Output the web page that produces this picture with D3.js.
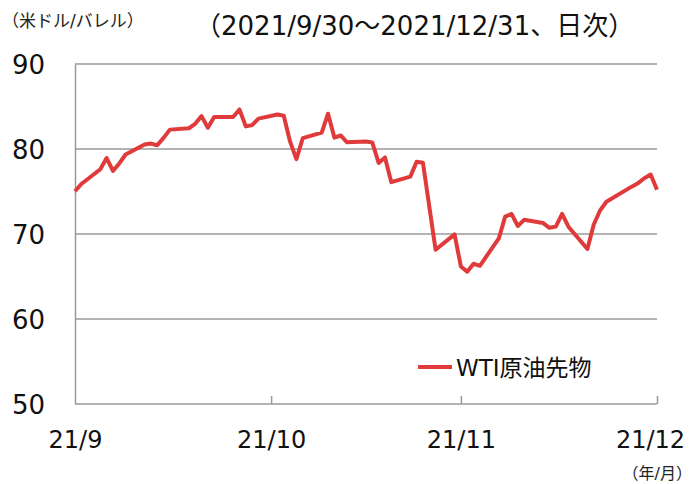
<!DOCTYPE html>
<html><head><meta charset="utf-8">
<script src="https://cdn.jsdelivr.net/npm/d3@7"></script>
<style>
html,body{margin:0;padding:0;background:#fff;}
svg{display:block;font-family:"DejaVu Sans","Noto Sans CJK JP",sans-serif;}
</style></head><body>
<svg id="c" width="696" height="484"></svg>
<script>
const dates = ["2021-09-30","2021-10-01","2021-10-04","2021-10-05","2021-10-06","2021-10-07","2021-10-08",
"2021-10-11","2021-10-12","2021-10-13","2021-10-14","2021-10-15","2021-10-18","2021-10-19","2021-10-20",
"2021-10-21","2021-10-22","2021-10-25","2021-10-26","2021-10-27","2021-10-28","2021-10-29",
"2021-11-01","2021-11-02","2021-11-03","2021-11-04","2021-11-05","2021-11-08","2021-11-09","2021-11-10",
"2021-11-11","2021-11-12","2021-11-15","2021-11-16","2021-11-17","2021-11-18","2021-11-19","2021-11-22",
"2021-11-23","2021-11-24","2021-11-26","2021-11-29","2021-11-30","2021-12-01","2021-12-02","2021-12-03",
"2021-12-06","2021-12-07","2021-12-08","2021-12-09","2021-12-10","2021-12-13","2021-12-14","2021-12-15",
"2021-12-16","2021-12-17","2021-12-20","2021-12-21","2021-12-22","2021-12-23","2021-12-27","2021-12-28",
"2021-12-29","2021-12-30","2021-12-31"];
const wti = [75.03,75.88,77.62,78.93,77.43,78.30,79.35,
80.52,80.64,80.44,81.31,82.28,82.44,82.96,83.87,
82.50,83.76,83.76,84.65,82.66,82.81,83.57,
84.05,83.91,80.86,78.81,81.27,81.93,84.15,81.34,
81.59,80.79,80.88,80.76,78.36,79.01,76.10,76.75,
78.50,78.39,68.15,69.95,66.18,65.57,66.50,66.26,
69.49,72.05,72.36,70.94,71.67,71.29,70.73,70.87,
72.38,70.86,68.23,71.12,72.76,73.79,75.57,75.98,
76.56,76.99,75.21];
const yTicks = [50,60,70,80,90];
const xTickDates = ["2021-09-30","2021-10-31","2021-11-30","2021-12-31"];
const xTickLabels = ["21/9","21/10","21/11","21/12"];
const seriesName = "WTI原油先物";
const title = "（2021/9/30～2021/12/31、日次）";
const yUnit = "（米ドル/バレル）";
const xUnit = "（年/月）";

const parse = d3.timeParse("%Y-%m-%d");
const data = dates.map((d,i)=>({date:parse(d), v:wti[i]}));
const svg = d3.select("#c");
const L=75,R=657,T=64,B=404;
const x = d3.scaleTime().domain([parse("2021-09-30"),parse("2021-12-31")]).range([L,R]);
const y = d3.scaleLinear().domain([50,90]).range([B,T]);
const gray="#9a9a9a";

// gridlines
svg.append("g").selectAll("line").data(yTicks.filter(t=>t>50)).join("line")
  .attr("x1",L).attr("x2",R).attr("y1",d=>y(d)).attr("y2",d=>y(d))
  .attr("stroke",gray).attr("stroke-width",1.5);

// y axis
const ya = svg.append("g").attr("transform",`translate(${L},0)`)
  .call(d3.axisLeft(y).tickValues(yTicks).tickSize(0).tickPadding(30).tickFormat(d3.format("d")));
ya.select(".domain").attr("stroke",gray).attr("stroke-width",1.5);
ya.selectAll("text").attr("font-size",26).attr("fill","#111").attr("dy","0.36em")
  .attr("font-family","'DejaVu Sans',sans-serif");

// x axis
const xa = svg.append("g").attr("transform",`translate(0,${B})`)
  .call(d3.axisBottom(x).tickValues(xTickDates.map(parse)).tickSize(-8).tickPadding(0)
     .tickFormat((d,i)=>xTickLabels[i]));
xa.select(".domain").attr("stroke",gray).attr("stroke-width",1.5).attr("d",`M${L},0H${R}`);
xa.selectAll(".tick line").attr("stroke",gray).attr("stroke-width",1.5);
xa.selectAll(".tick").filter((d,i)=>i===0).select("line").remove();
xa.selectAll("text").attr("font-size",24).attr("fill","#111").attr("y",44).attr("dy",0)
  .attr("font-family","'DejaVu Sans',sans-serif");
xa.selectAll(".tick").filter((d,i)=>i===3).select("text").attr("dx",-7);

// line
svg.append("path").datum(data)
  .attr("d",d3.line().x(d=>x(d.date)).y(d=>y(d.v)))
  .attr("fill","none").attr("stroke","#e03a3a").attr("stroke-width",4)
  .attr("stroke-linejoin","round");

// legend
svg.append("line").attr("x1",418).attr("x2",452).attr("y1",367).attr("y2",367)
  .attr("stroke","#e03a3a").attr("stroke-width",4);
svg.append("text").attr("x",456).attr("y",376).attr("font-size",23).attr("fill","#111").text(seriesName);

// texts
svg.append("text").attr("x",195).attr("y",35).attr("font-size",26).attr("fill","#111").text(title);
svg.append("text").attr("x",2).attr("y",27).attr("font-size",17).attr("fill","#222").text(yUnit);
svg.append("text").attr("x",692).attr("y",479).attr("text-anchor","end").attr("font-size",16).attr("fill","#222").text(xUnit);
</script></body></html>
